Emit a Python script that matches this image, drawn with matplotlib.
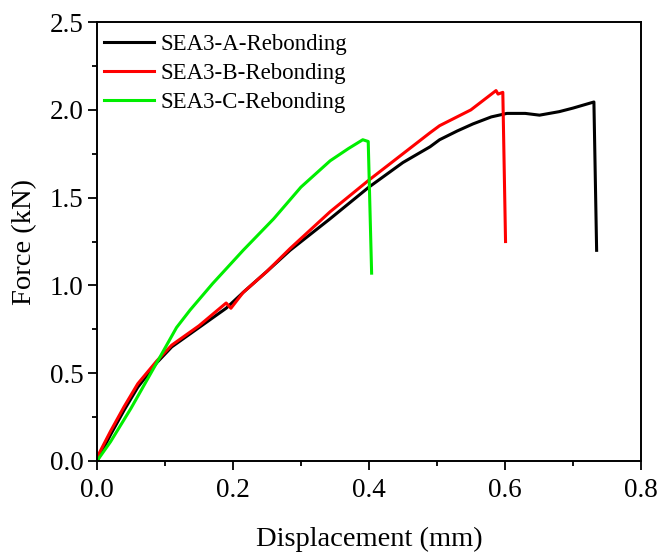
import matplotlib
matplotlib.use("Agg")
import matplotlib.pyplot as plt
from matplotlib.ticker import MultipleLocator

plt.rcParams['font.family'] = ['Liberation Serif', 'DejaVu Serif']
plt.rcParams['mathtext.fontset'] = 'stix'

a_x = [0.0, 0.02, 0.04, 0.06, 0.088, 0.11, 0.15, 0.19, 0.215, 0.25, 0.284, 0.343, 0.40, 0.45, 0.49, 0.504, 0.53, 0.553, 0.58, 0.603, 0.63, 0.651, 0.68, 0.70, 0.731, 0.735]
a_y = [0.0, 0.15, 0.29, 0.42, 0.56, 0.65, 0.76, 0.87, 0.96, 1.08, 1.20, 1.38, 1.56, 1.70, 1.79, 1.83, 1.88, 1.92, 1.96, 1.98, 1.98, 1.97, 1.99, 2.01, 2.045, 1.20]

b_x = [0.0, 0.02, 0.04, 0.06, 0.088, 0.11, 0.15, 0.19, 0.197, 0.215, 0.25, 0.284, 0.343, 0.40, 0.45, 0.49, 0.504, 0.55, 0.587, 0.59, 0.597, 0.601]
b_y = [0.02, 0.17, 0.31, 0.44, 0.57, 0.66, 0.77, 0.90, 0.87, 0.96, 1.08, 1.21, 1.42, 1.60, 1.75, 1.87, 1.91, 2.00, 2.11, 2.09, 2.10, 1.25]

c_x = [0.0, 0.02, 0.05, 0.088, 0.117, 0.137, 0.17, 0.215, 0.26, 0.30, 0.343, 0.37, 0.391, 0.399, 0.404]
c_y = [0.0, 0.11, 0.30, 0.56, 0.76, 0.86, 1.01, 1.20, 1.38, 1.56, 1.71, 1.78, 1.83, 1.82, 1.07]

labels = ['SEA3-A-Rebonding', 'SEA3-B-Rebonding', 'SEA3-C-Rebonding']
colors = ['black', 'red', '#00ee00']

fig = plt.figure(figsize=(6.62, 5.53), dpi=100)
ax = fig.add_axes([0.1465, 0.1664, 0.8215, 0.7936])
for xs, ys, lab, col in zip([a_x, b_x, c_x], [a_y, b_y, c_y], labels, colors):
    ax.plot(xs, ys, color=col, lw=2.2, label=lab)

ax.set_xlim(0, 0.8)
ax.set_ylim(0, 2.5)
ax.xaxis.set_minor_locator(MultipleLocator(0.1))
ax.yaxis.set_minor_locator(MultipleLocator(0.25))
ax.set_xticks([0, 0.2, 0.4, 0.6, 0.8])
ax.set_xticklabels(['0.0', '0.2', '0.4', '0.6', '0.8'])
ax.set_yticks([0, 0.5, 1.0, 1.5, 2.0, 2.5])
ax.set_yticklabels(['0.0', '0.5', '1.0', '1.5', '2.0', '2.5'])
ax.tick_params(which='both', direction='out', top=False, right=False, labelsize=19.5, width=1.3)
ax.tick_params(which='major', length=6.5)
ax.tick_params(axis='y', which='major', pad=3)
ax.tick_params(axis='x', which='major', pad=6)
ax.tick_params(which='minor', length=3.5)
for s in ax.spines.values():
    s.set_linewidth(1.4)
ax.set_xlabel('Displacement (mm)', fontsize=20.5, labelpad=17)
ax.set_ylabel('Force (kN)', fontsize=20.5, labelpad=9)
ax.legend(loc='upper left', bbox_to_anchor=(0, 0.9895), frameon=False, fontsize=16.5,
          handlelength=2.2, borderaxespad=0.1, borderpad=0.2, labelspacing=0.36,
          handletextpad=0.28)
fig.savefig('out.png', dpi=100)
